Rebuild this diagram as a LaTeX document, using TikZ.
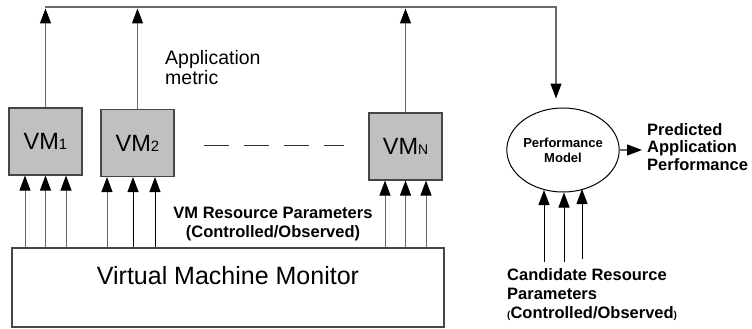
\documentclass[tikz,border=0pt]{standalone}
\usepackage{fontspec}
\setmainfont{Liberation Sans}
\usetikzlibrary{arrows.meta,shapes.geometric}
\definecolor{vmfill}{RGB}{192,192,192}
\definecolor{wire}{RGB}{105,105,105}
\definecolor{edgegray}{RGB}{70,70,70}
\newcommand{\fsz}[2]{\fontsize{#1}{#2}\selectfont}

\begin{document}
\begin{tikzpicture}[x=1pt,y=-1pt,
  vmbox/.style={draw=edgegray, fill=vmfill, line width=1.1pt, minimum width=73pt,
    minimum height=67pt, inner sep=0pt, font=\fsz{23.5}{24}},
  plainbox/.style={draw=edgegray, line width=1.1pt, inner sep=0pt},
  tipshape/.style={-{Triangle[length=15pt,width=11pt,color=black]}},
  wirearrow/.style={draw=wire, line width=1.1pt, tipshape},
  blackarrow/.style={draw=black, line width=0.9pt, tipshape},
  boldlabel/.style={font=\bfseries\fsz{16.5}{19}, inner sep=0pt},
]
\path[use as bounding box] (0,0) rectangle (752,329);

% virtual machines
\node[vmbox] (vm1) at (45.5,141.5) {VM{\fsz{15}{16}1}};
\node[vmbox] (vm2) at (137.5,143) {VM{\fsz{15}{16}2}};
\node[vmbox] (vmn) at (405.5,146.5) {VM{\fsz{14}{15}N}};

% hypervisor
\node[plainbox, minimum width=432pt, minimum height=79pt] (vmm) at (228,287.5) {};
\node[font=\fsz{25}{26}, inner sep=0pt] (vmmlabel) at (228,276) {Virtual Machine Monitor};

% performance model
\node[draw=black, line width=1pt, ellipse, minimum width=98pt, minimum height=84pt,
  inner sep=0pt, align=center, font=\bfseries\fsz{13}{15}] (pm) at (563,150)
  {Performance\\Model};

% labels
\node[anchor=north west, inner sep=0pt, align=left, font=\fsz{19.5}{20.5}] (appmetric)
  at (165,50) {Application\\metric};
\node[boldlabel, align=center] (vmres) at (273,224)
  {VM Resource Parameters\\(Controlled/Observed)};
\node[boldlabel, anchor=north west, align=left, font=\bfseries\fsz{16.5}{17.5}] (pred)
  at (647,123) {Predicted\\Application\\Performance};
\node[boldlabel, anchor=north west, align=left] (cand) at (507,268)
  {Candidate Resource\\Parameters\\{\fsz{10}{10}(}Controlled/Observed{\fsz{10}{10})}};

% collecting line for the application metrics
\coordinate (topL) at (45,7);
\coordinate (topR) at (556,7);
\draw[wirearrow, shorten >=1.5pt] (vm1.north) -- (vm1.north |- topL);
\draw[wirearrow, shorten >=1.5pt] (vm2.north) -- (vm2.north |- topL);
\draw[wirearrow, shorten >=1.5pt] (vmn.north) -- (vmn.north |- topL);
\draw[wirearrow, shorten >=9pt] (topL) -- (topR) -- (topR |- pm.north);

% model output
\draw[wirearrow, shorten >=5pt] (pm.east) -- (pm.east -| pred.west);

% dashes between the machines
\draw[draw=black!80, line width=1pt, dash pattern=on 25pt off 15pt]
  ([xshift=29pt]vm2.east |- 0,145) -- ([xshift=-24pt]vmn.west |- 0,145);

% resource parameters from the monitor
\foreach \m/\dx/\c in {vm1/-20.5/wire, vm1/0/wire, vm1/20.5/wire,
                       vm2/-30.5/wire, vm2/-4.5/black, vm2/17.5/black,
                       vmn/-20.5/wire, vmn/0/wire, vmn/20.5/wire}
  \draw[wirearrow, draw=\c, line width=1pt] ([xshift=\dx pt]\m.south |- vmm.north) -- ([xshift=\dx pt]\m.south);

% candidate resource parameters into the model
\coordinate (c1) at (544,262);
\coordinate (c2) at (564,262);
\coordinate (c3) at (582,259);
\draw[blackarrow] (c1) -- (c1 |- 0,190);
\draw[blackarrow] (c2) -- (c2 |- pm.south);
\draw[blackarrow] (c3) -- (c3 |- 0,189);
\end{tikzpicture}
\end{document}
